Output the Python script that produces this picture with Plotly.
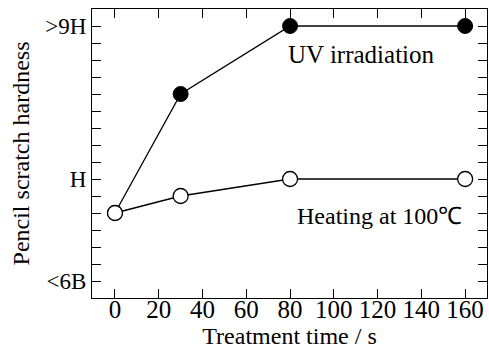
import plotly.graph_objects as go

time_s = [0, 30, 80, 160]
uv_hardness = [4, 11, 15, 15]
heat_hardness = [4, 5, 6, 6]

y_tick_vals = list(range(0, 16))
y_tick_labels = {0: "<6B", 6: "H", 15: ">9H"}
x_tick_vals = [0, 20, 40, 60, 80, 100, 120, 140, 160]

FONT = "Liberation Serif"

fig = go.Figure()
fig.add_trace(go.Scatter(
    x=time_s, y=uv_hardness, mode="lines+markers",
    line=dict(color="black", width=1.3),
    marker=dict(symbol="circle", size=15, color="black",
                line=dict(color="black", width=1)),
    name="UV irradiation", showlegend=False))
fig.add_trace(go.Scatter(
    x=time_s, y=heat_hardness, mode="lines+markers",
    line=dict(color="black", width=1.3),
    marker=dict(symbol="circle", size=15, color="white",
                line=dict(color="black", width=1.3)),
    name="Heating at 100℃", showlegend=False))

fig.add_annotation(x=112.5, y=13.3, text="UV irradiation", showarrow=False,
                   font=dict(family=FONT, size=25, color="black"))
fig.add_annotation(x=121, y=3.85, text="Heating at 100℃", showarrow=False,
                   font=dict(family=FONT, size=24, color="black"))

fig.update_xaxes(range=[-10.5, 170], tickvals=x_tick_vals,
                 ticks="inside", ticklen=9, tickwidth=1, tickcolor="black",
                 showline=True, linecolor="black", linewidth=1.2, mirror="ticks",
                 showgrid=False, zeroline=False, ticklabelstandoff=-11,
                 tickfont=dict(family=FONT, size=25, color="black"),
                 title=dict(text="Treatment time / s", standoff=0,
                            font=dict(family=FONT, size=24, color="black")))
fig.update_yaxes(range=[-1, 16], tickvals=y_tick_vals,
                 ticktext=[y_tick_labels.get(v, "") for v in y_tick_vals],
                 ticks="inside", ticklen=9, tickwidth=1, tickcolor="black",
                 showline=True, linecolor="black", linewidth=1.2, mirror="ticks",
                 showgrid=False, zeroline=False,
                 tickfont=dict(family=FONT, size=23, color="black"),
                 title=dict(text="Pencil scratch hardness", standoff=8,
                            font=dict(family=FONT, size=24, color="black")))

fig.update_layout(width=489, height=359,
                  margin=dict(l=92, r=2, t=9, b=61),
                  paper_bgcolor="white", plot_bgcolor="white")

fig.write_html("out.html")
